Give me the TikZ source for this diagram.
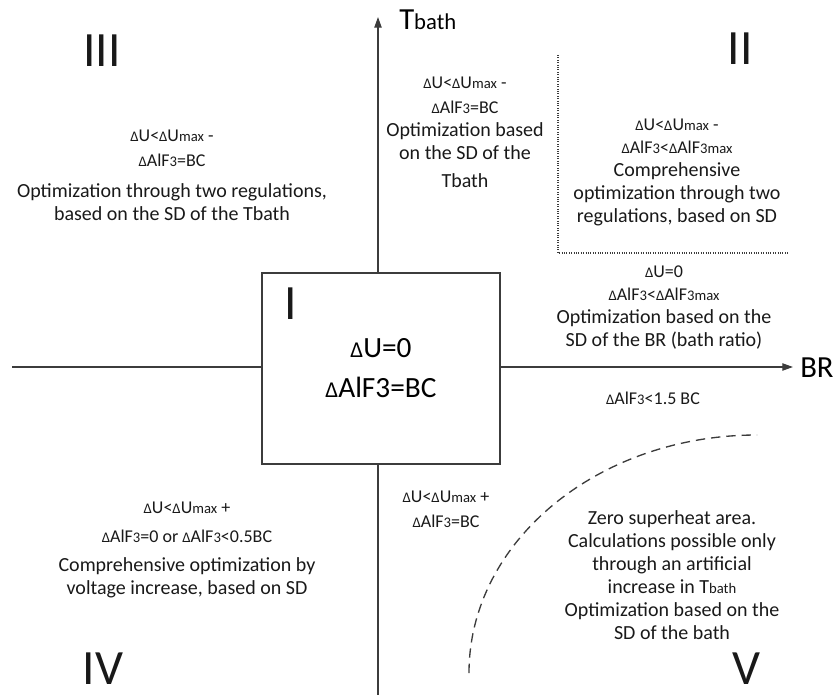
\documentclass[tikz,border=0pt]{standalone}
\usepackage{fontspec}
\setmainfont{Carlito}
\usepackage{xcolor}
\usetikzlibrary{arrows.meta,positioning}

\definecolor{lineg}{HTML}{3C3C3C}
\newcommand{\dlt}{{\fontsize{11}{12}\selectfont Δ}}
\newcommand{\lo}[1]{{\fontsize{11}{12}\selectfont #1}}
\newcommand{\cnd}[1]{{\fontsize{13.5}{17}\selectfont #1}}

\begin{document}
\begin{tikzpicture}[
  x=0.75pt, y=-0.75pt,
  font=\fontsize{15}{17.25}\selectfont,
  txt/.style={align=center,inner sep=0pt,text=black!90},
  quad/.style={inner sep=0pt,font=\fontsize{37}{37}\selectfont,text=black!90},
  axis/.style={lineg,line width=0.9pt,-{Triangle[length=8pt,width=5.5pt]}},
  bound/.style={lineg,densely dotted,line width=0.8pt},
  limit/.style={lineg,line width=1pt,dash pattern=on 7pt off 4.5pt}
]
\useasboundingbox (0,0) rectangle (834,695);

% axes
\coordinate (xl) at (12,367);
\coordinate (xr) at (793,367);
\coordinate (yb) at (378,695);
\coordinate (yt) at (378,17);
\draw[axis] (xl) -- (xr);
\draw[axis] (yb) -- (yt);
\node[anchor=base west,inner sep=0pt] (tlbl) at (399,30) {{\fontsize{23}{23}\selectfont T}{\fontsize{17}{17}\selectfont bath}};
\node[anchor=base west,inner sep=0pt,font=\fontsize{23}{23}\selectfont] (brlbl) at (800,377) {BR};

% central zone
\node[draw=lineg,line width=0.9pt,fill=white,minimum width=178.5pt,minimum height=143.25pt,align=center,
      font=\fontsize{22}{30}\selectfont] (box) at (381,368.5)
  {{\fontsize{17}{17}\selectfont Δ}U=0\\{\fontsize{17}{17}\selectfont Δ}AlF3=BC};
\node[quad] (qI) at (291,304) {I};

% zone boundaries
\draw[bound] (558,55) -- (558,253) -- (788,253);
\draw[limit] (469,673) arc[start angle=180,end angle=270,x radius=288,y radius=238];

% zone numbers
\node[quad] (qIII) at (102,51) {III};
\node[quad] (qII) at (740,49) {II};
\node[quad] (qIV) at (103,669) {IV};
\node[quad] (qV) at (746,669) {V};

% zone texts
\node[txt] (tIII) at (172,175) {\cnd{\dlt U<\dlt U\lo{max} -}\\[1.5pt]
  \cnd{\dlt AlF\lo{3}=BC}\\[6pt]
  Optimization through two regulations,\\
  based on the SD of the Tbath};
\node[txt] (tup) at (465,132) {\cnd{\dlt U<\dlt U\lo{max} -}\\[1.5pt]
  \cnd{\dlt AlF\lo{3}=BC}\\
  Optimization based\\
  on the SD of the\\[3.75pt]
  Tbath};
\node[txt] (tII) at (677,172) {\cnd{\dlt U<\dlt U\lo{max} -}\\
  \cnd{\dlt AlF\lo{3}<\dlt AlF\lo{3max}}\\
  Comprehensive\\
  optimization through two\\
  regulations, based on SD};
\node[txt] (tright) at (664,308) {\cnd{\dlt U=0}\\
  \cnd{\dlt AlF\lo{3}<\dlt AlF\lo{3max}}\\
  Optimization based on the\\
  SD of the BR (bath ratio)};
\node[txt] (tbc) at (653,398) {\cnd{\dlt AlF\lo{3}<1.5 BC}};
\node[txt] (tdown) at (446,509) {\cnd{\dlt U<\dlt U\lo{max} +}\\[1.5pt]
  \cnd{\dlt AlF\lo{3}=BC}};
\node[txt] (tIV) at (187,550) {\cnd{\dlt U<\dlt U\lo{max} +}\\[4pt]
  \cnd{\dlt AlF\lo{3}=0 or \dlt AlF\lo{3}<0.5BC}\\[4.5pt]
  Comprehensive optimization by\\
  voltage increase, based on SD};
\node[txt] (tV) at (672,575) {Zero superheat area.\\
  Calculations possible only\\
  through an artificial\\
  increase in T\lo{bath}\\
  Optimization based on the\\
  SD of the bath};
\end{tikzpicture}
\end{document}
